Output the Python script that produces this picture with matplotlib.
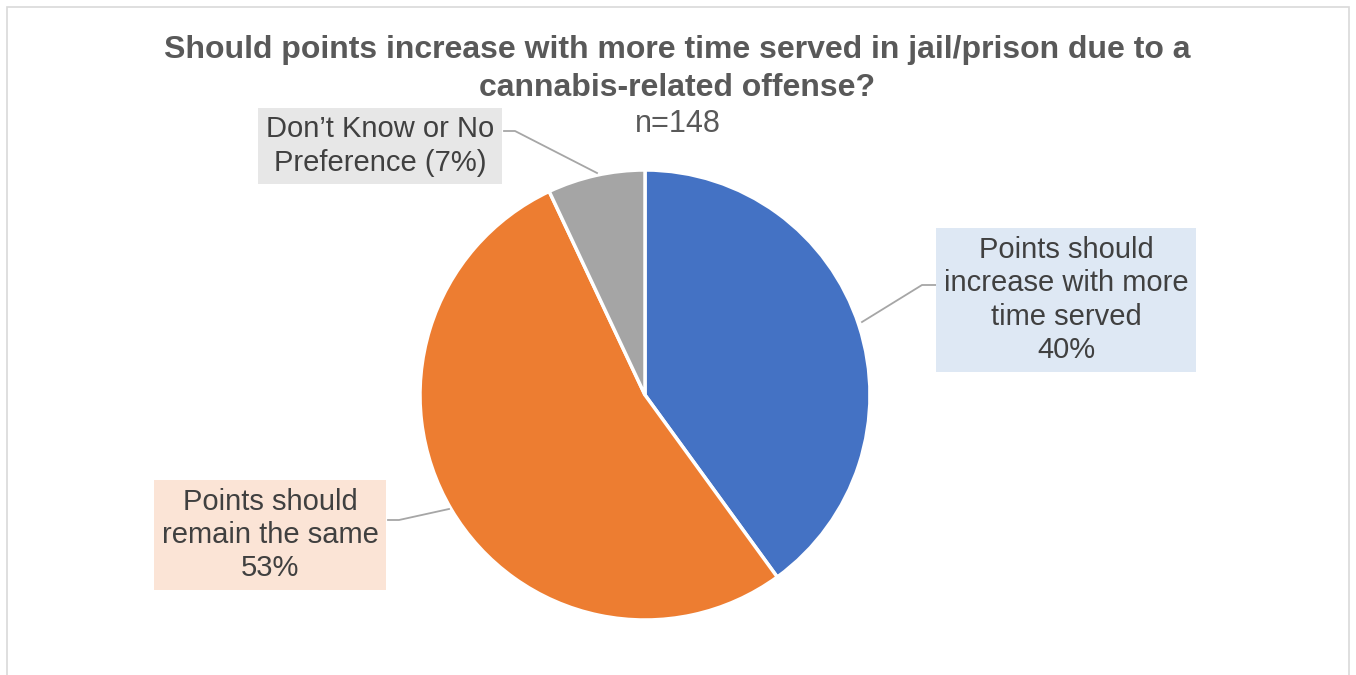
import matplotlib.pyplot as plt
from matplotlib.patches import Rectangle

plt.rcParams['font.family'] = ['Liberation Sans', 'DejaVu Sans']

# survey answers, clockwise from 12 o'clock
answers = ['Points should\nincrease with more\ntime served\n40%',
           'Points should\nremain the same\n53%',
           'Don\u2019t Know or No\nPreference (7%)']
shares = [40, 53, 7]
colors = ['#4472C4', '#ED7D31', '#A5A5A5']
box_colors = ['#DEE8F4', '#FBE4D6', '#E7E7E7']

title = 'Should points increase with more time served in jail/prison due to a\ncannabis-related offense?'
subtitle = 'n=148'

W, H = 1356, 675


def py(y):
    # image rows run downward, axes y runs upward
    return H - y


fig = plt.figure(figsize=(W / 100, H / 100), dpi=100)
ax = fig.add_axes([0, 0, 1, 1])

ax.pie(shares, colors=colors, startangle=90, counterclock=False,
       center=(645, py(395)), radius=225,
       wedgeprops=dict(edgecolor='white', linewidth=2.5))

# pie() resets the limits, so pin them to pixel space afterwards
ax.set_xlim(0, W)
ax.set_ylim(0, H)
ax.set_aspect('equal')
ax.axis('off')

# outer chart frame
ax.add_patch(Rectangle((7, py(680)), W - 14, 673, fill=False,
                       edgecolor='#D9D9D9', linewidth=1.2))

ax.text(677, py(69), title, ha='center', va='center', fontsize=23,
        fontweight='bold', color='#595959', linespacing=1.33)
ax.text(678, py(124), subtitle, ha='center', va='center', fontsize=22,
        color='#595959')

# leader lines: wedge edge -> elbow -> label box
leaders = [
    [(862, 322), (922, 285), (936, 285)],
    [(449, 509), (399, 520), (388, 520)],
    [(597, 173), (515, 131), (504, 131)],
]
for pts in leaders:
    ax.plot([p[0] for p in pts], [py(p[1]) for p in pts],
            color='#A6A6A6', linewidth=1.3)

label_pos = [(1066, 297), (270, 532), (380, 143)]
text_shift = 3
for txt, (x, y), bc in zip(answers, label_pos, box_colors):
    ax.text(x, py(y + text_shift), txt, ha='center', va='center', fontsize=21,
            color='#404040', linespacing=1.25,
            bbox=dict(boxstyle='square,pad=0.26', facecolor=bc,
                      edgecolor='none'))

fig.savefig('out.png', dpi=100)
